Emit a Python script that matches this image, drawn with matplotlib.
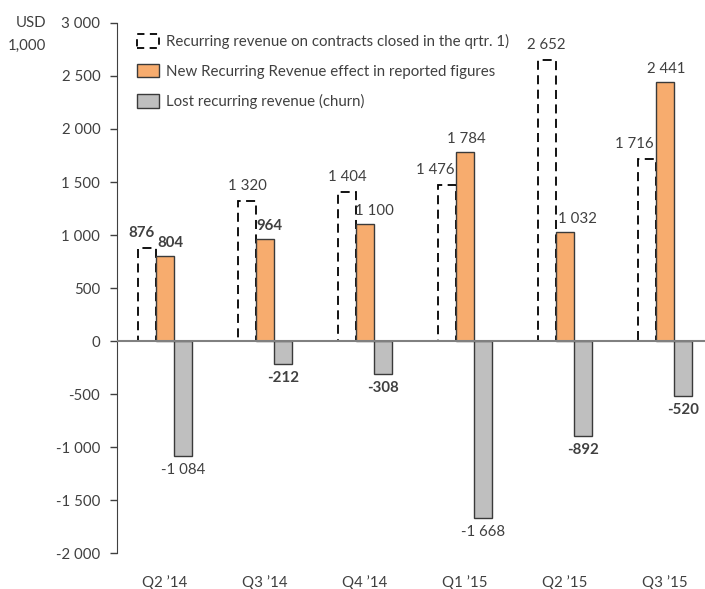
# recurring revenue per quarter, grouped bars

import matplotlib.pyplot as plt
from matplotlib.patches import Patch

plt.rcParams['font.family'] = ['Lato', 'DejaVu Sans']

quarters = ["Q2 \u201914", "Q3 \u201914", "Q4 \u201914", "Q1 \u201915", "Q2 \u201915", "Q3 \u201915"]
closed = [876, 1320, 1404, 1476, 2652, 1716]
new_rr = [804, 964, 1100, 1784, 1032, 2441]
churn = [-1084, -212, -308, -1668, -892, -520]
yticks = [-2000, -1500, -1000, -500, 0, 500, 1000, 1500, 2000, 2500, 3000]
legend_labels = ["Recurring revenue on contracts closed in the qrtr. 1)",
                 "New Recurring Revenue effect in reported figures",
                 "Lost recurring revenue (churn)"]

def fmt(v):
    return f"{v:,}".replace(",", " ")

txt = '#404040'
orange = '#F7AC6E'
grey = '#BFBFBF'
edge = '#3A3A3A'
fs = 10.8

# small horizontal nudges of the value labels (pixels), as in the original
nudge_closed = [-5, 1, 1, -11, 0, -12]
nudge_new = [5, 4, 9, 1, 12, 1]

fig = plt.figure(figsize=(7.05, 5.89), dpi=100)
ax = fig.add_axes([117/705, 0.061, 1 - 117/705, 0.90])

x = list(range(len(quarters)))
w = 0.183

ax.bar([i - w for i in x], closed, w, fill=False, edgecolor='black',
       linestyle=(0, (5, 3)), linewidth=1.3, zorder=2)
ax.bar(x, new_rr, w, color=orange, edgecolor=edge, linewidth=1, zorder=2)
ax.bar([i + w for i in x], churn, w, color=grey, edgecolor=edge, linewidth=1, zorder=2)
ax.axhline(0, color='#808080', linewidth=1.5, zorder=3)

bold_new = {0, 1}
bold_churn = {1, 2, 4, 5}
for i in x:
    ax.annotate(fmt(closed[i]), (i - w, closed[i]), xytext=(nudge_closed[i], 8),
                textcoords='offset pixels', ha='center', va='bottom', fontsize=fs, color=txt,
                fontweight='bold' if i == 0 else 'normal')
    ax.annotate(fmt(new_rr[i]), (i, new_rr[i]), xytext=(nudge_new[i], 6),
                textcoords='offset pixels', ha='center', va='bottom', fontsize=fs, color=txt,
                fontweight='bold' if i in bold_new else 'normal')
    ax.annotate(fmt(churn[i]), (i + w, churn[i]), xytext=(0, -7),
                textcoords='offset pixels', ha='center', va='top', fontsize=fs, color=txt,
                fontweight='bold' if i in bold_churn else 'normal')

ax.set_xlim(-0.48, 5.40)
ax.set_ylim(-2000, 3000)
ax.set_yticks(yticks)
ax.set_yticklabels([fmt(v) for v in yticks])
ax.set_xticks(x)
ax.set_xticklabels(quarters)
ax.tick_params(axis='y', direction='out', length=5, width=1, color=txt, labelcolor=txt,
               labelsize=fs, pad=7)
ax.tick_params(axis='x', length=0, labelcolor=txt, labelsize=fs, pad=16)
for s in ['top', 'right', 'bottom']:
    ax.spines[s].set_visible(False)
ax.spines['left'].set_color(txt)

fig.text(46/705, 1 - 23/589, "USD", ha='right', va='center', fontsize=fs, color=txt)
fig.text(46/705, 1 - 46/589, "1,000", ha='right', va='center', fontsize=fs, color=txt)

handles = [Patch(facecolor='white', edgecolor='black', linestyle=(0, (4, 3)), linewidth=1.3),
           Patch(facecolor=orange, edgecolor=edge, linewidth=1),
           Patch(facecolor=grey, edgecolor=edge, linewidth=1)]
leg = fig.legend(handles, legend_labels, loc='upper left', bbox_to_anchor=(137/705, 1 - 34/589),
                 frameon=False, fontsize=fs, borderpad=0, borderaxespad=0,
                 handlelength=1.45, handleheight=1.0, handletextpad=0.5, labelspacing=1.0)
for t in leg.get_texts():
    t.set_color(txt)

fig.savefig('out.png', dpi=100)
